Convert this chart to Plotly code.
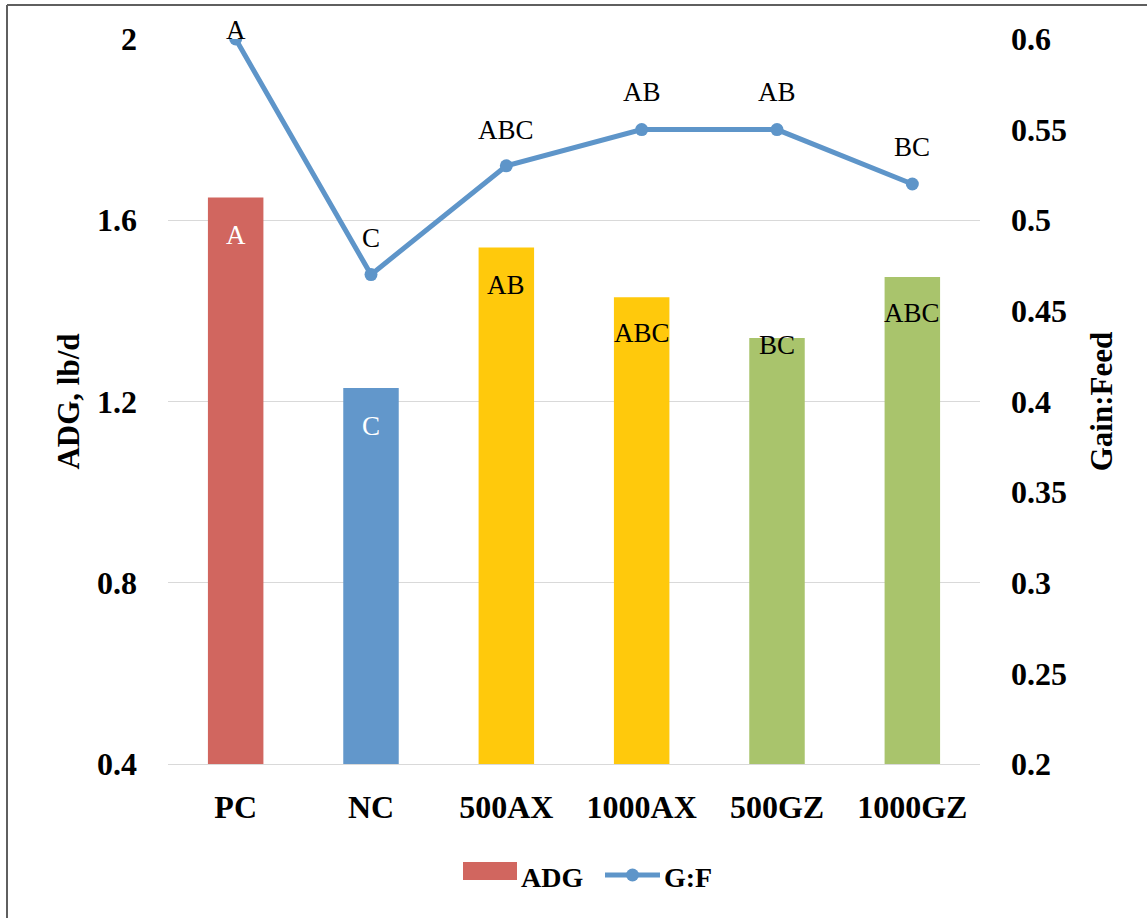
import plotly.graph_objects as go

categories = ["PC", "NC", "500AX", "1000AX", "500GZ", "1000GZ"]
adg = [1.65, 1.23, 1.54, 1.43, 1.34, 1.475]
gf = [0.60, 0.47, 0.53, 0.55, 0.55, 0.52]
adg_letters = ["A", "C", "AB", "ABC", "BC", "ABC"]
gf_letters = ["A", "C", "ABC", "AB", "AB", "BC"]
left_ticks = [0.4, 0.8, 1.2, 1.6, 2.0]
left_ticktext = ["0.4", "0.8", "1.2", "1.6", "2"]
right_ticks = [0.2, 0.25, 0.3, 0.35, 0.4, 0.45, 0.5, 0.55, 0.6]
right_ticktext = ["0.2", "0.25", "0.3", "0.35", "0.4", "0.45", "0.5", "0.55", "0.6"]

bar_colors = ["#D1665F", "#6297CB", "#FFC90C", "#FFC90C", "#A9C46C", "#A9C46C"]
bar_label_colors = ["white", "white", "black", "black", "black", "black"]
bar_label_shift = [-37, -38, -38, -36, -7, -36]
line_label_shift = [9, 37, 36, 38, 38, 37]
LINE_COLOR = "#5E95C9"
SERIF = "Liberation Serif"

W, H = 1147, 918
L, R, T, B = 168, 980, 39, 764


def px(x):
    return (x - L) / (R - L)


def py(y):
    return (B - y) / (B - T)


fig = go.Figure()
fig.add_trace(go.Bar(
    x=categories, y=adg, name="ADG", marker=dict(color=bar_colors, line=dict(width=0)),
    yaxis="y", showlegend=False,
))
fig.add_trace(go.Scatter(
    x=categories, y=gf, name="G:F", mode="lines+markers", yaxis="y2",
    line=dict(color=LINE_COLOR, width=5), marker=dict(color=LINE_COLOR, size=13),
    showlegend=False,
))

annotations = []
for c, v, t, col, s in zip(categories, adg, adg_letters, bar_label_colors, bar_label_shift):
    annotations.append(dict(x=c, y=v, xref="x", yref="y", text=t, showarrow=False,
                            yshift=s, font=dict(family=SERIF, size=27, color=col)))
for c, v, t, s in zip(categories, gf, gf_letters, line_label_shift):
    annotations.append(dict(x=c, y=v, xref="x", yref="y2", text=t, showarrow=False,
                            yshift=s, font=dict(family=SERIF, size=27, color="black")))

# custom legend
annotations.append(dict(x=px(519), y=py(877), xref="paper", yref="paper", text="<b>ADG</b>",
                        showarrow=False, xanchor="left", yanchor="middle",
                        font=dict(family=SERIF, size=28, color="black")))
annotations.append(dict(x=px(662), y=py(877), xref="paper", yref="paper", text="<b>G:F</b>",
                        showarrow=False, xanchor="left", yanchor="middle",
                        font=dict(family=SERIF, size=28, color="black")))

shapes = [
    # legend swatches
    dict(type="rect", xref="paper", yref="paper", x0=px(463), x1=px(517), y0=py(880), y1=py(862),
         fillcolor=bar_colors[0], line=dict(width=0)),
    dict(type="line", xref="paper", yref="paper", x0=px(605), x1=px(660), y0=py(875), y1=py(875),
         line=dict(color=LINE_COLOR, width=5)),
    dict(type="circle", xref="paper", yref="paper", x0=px(626), x1=px(639), y0=py(881.5), y1=py(868.5),
         fillcolor=LINE_COLOR, line=dict(width=0)),
    # outer frame (top and left edges)
    dict(type="line", xref="paper", yref="paper", x0=px(7), x1=px(1150), y0=py(5), y1=py(5),
         line=dict(color="#5F5F5F", width=2)),
    dict(type="line", xref="paper", yref="paper", x0=px(7), x1=px(7), y0=py(5), y1=py(925),
         line=dict(color="#5F5F5F", width=2)),
]

tickfont = dict(family=SERIF, size=32, color="black")
titlefont = dict(family=SERIF, size=31, color="black")

fig.update_layout(
    width=W, height=H, autosize=False,
    margin=dict(l=L, r=W - R, t=T, b=H - B, pad=0),
    paper_bgcolor="white", plot_bgcolor="white",
    bargap=0.59,
    xaxis=dict(tickfont=tickfont, tickprefix="<b>", ticksuffix="</b>", showgrid=False,
               showline=True, linecolor="#D9D9D9", linewidth=1, ticks="", ticklabelstandoff=15),
    yaxis=dict(range=[0.4, 2.0], tickvals=left_ticks, ticktext=["<b>%s</b>" % t for t in left_ticktext],
               tickfont=tickfont, showgrid=True, gridcolor="#D9D9D9", gridwidth=1, zeroline=False,
               ticks="", ticklabelstandoff=30,
               title=dict(text="<b>ADG, lb/d</b>", font=titlefont, standoff=8)),
    yaxis2=dict(range=[0.2, 0.6], overlaying="y", side="right", tickvals=right_ticks,
                ticktext=["<b>%s</b>" % t for t in right_ticktext], tickfont=tickfont,
                showgrid=False, zeroline=False, ticks="", ticklabelstandoff=30,
                title=dict(text="<b>Gain:Feed</b>", font=titlefont, standoff=24)),
    annotations=annotations,
    shapes=shapes,
)

fig.write_html("out.html", config={"displayModeBar": False},
               post_script="document.body.style.margin='0';document.body.style.overflow='hidden';")
